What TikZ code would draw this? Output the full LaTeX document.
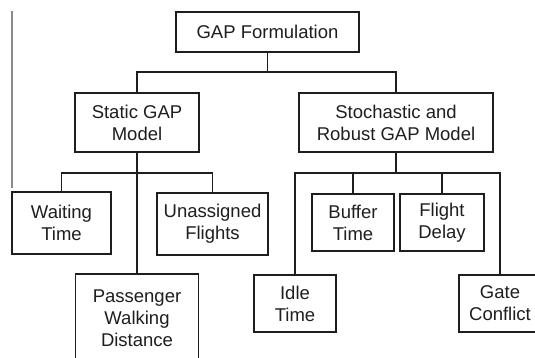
\documentclass[tikz,border=0pt]{standalone}
\usepackage{fontspec}
\setmainfont{Liberation Sans}
\usetikzlibrary{positioning,calc}
\usepackage{xcolor}
\definecolor{ink}{HTML}{1E1E1E}
\definecolor{edge}{HTML}{8A8A8A}
\tikzset{
  base/.style={font=\fontsize{18.5}{22}\selectfont, text=ink},
  box/.style={base, draw=ink, line width=1.9pt, fill=white, align=center, inner sep=0pt},
  link/.style={draw=ink, line width=1.9pt},
  margin/.style={draw=edge, line width=1.5pt},
}

\begin{document}
\begin{tikzpicture}[x=1pt,y=-1pt]
  \path[use as bounding box,clip] (0,0) rectangle (535,358);

  \draw[margin] (12,11) -- (12,188);

  \node[box,minimum width=183pt,minimum height=40pt] (gap) at (267.5,32) {GAP Formulation};

  \node[box,minimum width=124pt,minimum height=59pt] (static) at (137,122.5) {Static GAP\\Model};
  \node[box,minimum width=194pt,minimum height=59pt] (stoch) at (396,122.5) {Stochastic and\\Robust GAP Model};

  \node[box,minimum width=99pt,minimum height=62pt] (wait) at (61.5,223) {Waiting\\Time};
  \node[box,minimum width=111pt,minimum height=62pt] (unas) at (212.5,224) {Unassigned\\Flights};
  \node[box,minimum width=123pt,minimum height=88pt] (walk) at (137,318) {Passenger\\Walking\\Distance};

  \node[box,minimum width=82pt,minimum height=57pt] (buffer) at (353,222.5) {Buffer\\Time};
  \node[box,minimum width=84pt,minimum height=57pt] (delay) at (442,222.5) {Flight\\Delay};
  \node[box,minimum width=82pt,minimum height=57pt] (idle) at (295,303.5) {Idle\\Time};
  \node[box,minimum width=82pt,minimum height=57pt] (conflict) at (500,303.5) {Gate\\Conflict};

  \coordinate (busA) at (267.5,72);
  \coordinate (busB) at (137,173);
  \coordinate (busC) at (396,173);

  \draw[link] (gap.south) -- (busA) -| (static.north);
  \draw[link] (busA) -| (stoch.north);

  \draw[link] (static.south) -- (busB) -| (wait.north);
  \draw[link] (busB) -| (unas.north);
  \draw[link] (busB) -- (walk.north);

  \draw[link] (stoch.south) -- (busC) -| (idle.north);
  \draw[link] (busC) -| (conflict.north);
  \draw[link] (buffer.north) |- (busC);
  \draw[link] (delay.north) |- (busC);
\end{tikzpicture}
\end{document}
